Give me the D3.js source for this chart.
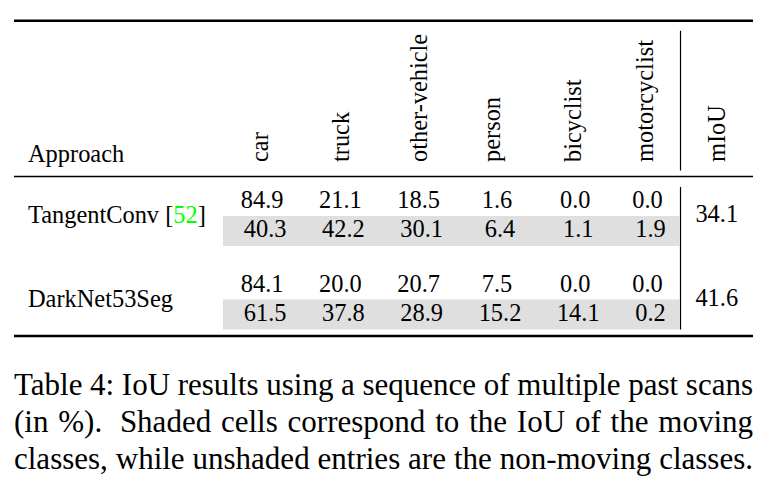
<!DOCTYPE html>
<html><head><meta charset="utf-8">
<script src="https://cdn.jsdelivr.net/npm/d3@7"></script>
<style>html,body{margin:0;padding:0;background:#fff;} svg{display:block}</style>
</head><body><svg id="c" width="773" height="481"></svg>
<script>
// ---- data ----
const classes = ["car", "truck", "other-vehicle", "person", "bicyclist", "motorcyclist"];
const approaches = ["TangentConv", "DarkNet53Seg"];
const citations = ["52", null];
const staticIoU = [
  [84.9, 21.1, 18.5, 1.6, 0.0, 0.0],
  [84.1, 20.0, 20.7, 7.5, 0.0, 0.0]
];
const movingIoU = [
  [40.3, 42.2, 30.1, 6.4, 1.1, 1.9],
  [61.5, 37.8, 28.9, 15.2, 14.1, 0.2]
];
const mIoU = [34.1, 41.6];
const headerApproach = "Approach";
const headerMean = "mIoU";
const captionLines = [
  "Table 4: IoU results using a sequence of multiple past scans",
  "(in %). Shaded cells correspond to the IoU of the moving",
  "classes, while unshaded entries are the non-moving classes."
];

// ---- layout ----
const FONT = '"Liberation Serif", "Times New Roman", Times, serif';
const fs = 24.4, capFs = 31;
const fmt = d3.format(".1f");
const svg = d3.select("#c");
svg.append("rect").attr("width", 773).attr("height", 481).attr("fill", "#fff");

const ctx = document.createElement("canvas").getContext("2d");
ctx.font = fs + "px " + FONT;
const tw = s => ctx.measureText(s).width;

const left = 14, right = 753, firstCol = 223, pad = 17.8;
// column widths from content
const colW = classes.map((c, j) => {
  const vals = staticIoU.map(r => fmt(r[j])).concat(movingIoU.map(r => fmt(r[j])));
  return d3.max(vals, tw) + 2 * pad;
});
const edges = [firstCol];
colW.forEach(w => edges.push(edges[edges.length - 1] + w));
const vline = edges[edges.length - 1];
const xCol = d3.scaleOrdinal().domain(classes).range(classes.map((c, j) => edges[j] + colW[j] / 2));
const xMean = (vline + right) / 2;

// row groups
const yGroup = d3.scalePoint().domain(approaches).range([186, 269.5]);

// rules
const rule = (y, w) => svg.append("line").attr("x1", left).attr("x2", right)
  .attr("y1", y).attr("y2", y).attr("stroke", "#000").attr("stroke-width", w);
rule(20.7, 2.4);
rule(176.5, 1.4);
rule(336, 2.4);

// vertical lines
svg.append("line").attr("x1", vline).attr("x2", vline).attr("y1", 30.7).attr("y2", 170.5)
  .attr("stroke", "#000").attr("stroke-width", 1.2);
svg.append("line").attr("x1", vline).attr("x2", vline).attr("y1", 187).attr("y2", 329.5)
  .attr("stroke", "#000").attr("stroke-width", 1.2);

// shaded rows
svg.selectAll("rect.shade").data(approaches).join("rect").attr("class", "shade")
  .attr("x", firstCol).attr("width", vline - firstCol - 0.6)
  .attr("y", d => yGroup(d) + 30).attr("height", 30)
  .attr("fill", "#dfdfdf");

const T = svg.append("g").attr("font-family", FONT).attr("font-size", fs).attr("fill", "#000");

// header
T.append("text").attr("x", 28).attr("y", 162).text(headerApproach);
function rotLabel(label, cx) {
  const m = ctx.measureText(label);
  const asc = m.actualBoundingBoxAscent, desc = m.actualBoundingBoxDescent;
  const bx = cx + (asc - desc) / 2;
  T.append("text").attr("transform", `translate(${bx},162) rotate(-90)`).text(label);
}
classes.forEach(c => rotLabel(c, xCol(c)));
rotLabel(headerMean, xMean);

// body
approaches.forEach((a, i) => {
  const g0 = yGroup(a);
  const lab = T.append("text").attr("x", 28).attr("y", g0 + 37);
  lab.append("tspan").text(a);
  if (citations[i]) {
    lab.append("tspan").text(" [");
    lab.append("tspan").attr("fill", "#00ff00").text(citations[i]);
    lab.append("tspan").text("]");
  }
  T.selectAll(null).data(staticIoU[i]).join("text")
    .attr("x", (d, j) => xCol(classes[j])).attr("y", g0 + 22)
    .attr("text-anchor", "middle").text(d => fmt(d));
  T.selectAll(null).data(movingIoU[i]).join("text")
    .attr("x", (d, j) => xCol(classes[j]) + 3).attr("y", g0 + 51)
    .attr("text-anchor", "middle").text(d => fmt(d));
  T.append("text").attr("x", xMean).attr("y", g0 + 36).attr("text-anchor", "middle").text(fmt(mIoU[i]));
});

// caption, justified
const C = svg.append("g").attr("font-family", FONT).attr("font-size", capFs).attr("fill", "#000");
ctx.font = capFs + "px " + FONT;
const capLeft = 14, capRight = 753, capY = [394.5, 431.5, 468.5];
captionLines.forEach((line, li) => {
  const words = line.split(" ");
  const widths = words.map(w => ctx.measureText(w).width);
  const weights = words.slice(0, -1).map(w => /\.$/.test(w) ? 1.8 : 1);
  const free = (capRight - capLeft) - d3.sum(widths);
  const unit = free / d3.sum(weights);
  let x = capLeft;
  words.forEach((w, k) => {
    C.append("text").attr("x", x).attr("y", capY[li]).text(w);
    x += widths[k] + (k < weights.length ? weights[k] * unit : 0);
  });
});
</script></body></html>
